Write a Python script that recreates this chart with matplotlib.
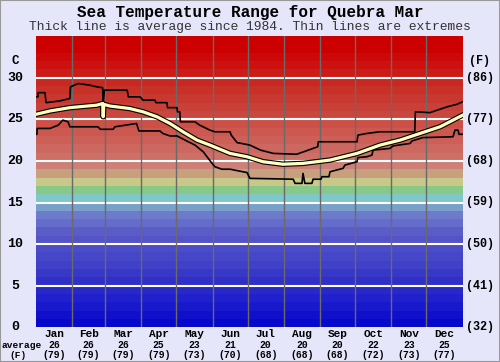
import matplotlib
matplotlib.use("Agg")
import matplotlib.pyplot as plt
from matplotlib.patches import Rectangle
import numpy as np

title = "Sea Temperature Range for Quebra Mar"
subtitle = "Thick line is average since 1984. Thin lines are extremes"

months = ["Jan", "Feb", "Mar", "Apr", "May", "Jun", "Jul", "Aug", "Sep", "Oct", "Nov", "Dec"]
month_days = [31, 28, 31, 30, 31, 30, 31, 31, 30, 31, 30, 31]
avg_c = [26, 26, 26, 25, 23, 21, 20, 20, 20, 22, 23, 25]
avg_f = [79, 79, 79, 79, 73, 70, 68, 68, 68, 72, 73, 77]

c_ticks = [0, 5, 10, 15, 20, 25, 30]
f_labels = ["(32)", "(41)", "(50)", "(59)", "(68)", "(77)", "(86)"]

# average line (day of year, deg C)
avg_day = [0, 12, 29, 52, 57, 57.5, 58, 63, 80, 91.5, 103.5, 114.6, 125.7, 137.7, 148.8,
           157.4, 166, 180.5, 194.2, 211.3, 228.4, 251.5, 274.6, 294.3, 311.4, 328.5, 345.6, 365]
avg_t = [25.6, 26.0, 26.4, 26.7, 26.9, 25.3, 26.8, 26.6, 26.3, 25.9, 25.3, 24.5, 23.5, 22.5, 21.9,
         21.4, 20.9, 20.5, 19.9, 19.6, 19.7, 20.1, 20.9, 21.9, 22.5, 23.3, 24.1, 25.5]

# upper extreme line
up_day = [0, 1.7, 1.8, 7.7, 8.6, 20, 29, 29.5, 36, 46, 52, 57, 57.5, 58.5, 78, 79, 89, 91.5,
          101.8, 102.5, 112, 112.5, 120.6, 121, 123, 123.5, 136, 140, 148.8, 153, 166, 167,
          172, 183, 192, 203, 223, 241, 241.5, 274.6, 275.4, 283, 294, 324, 324.5, 337,
          351.6, 360, 365]
up_t = [27.7, 27.7, 28.2, 28.2, 27.0, 27.2, 27.5, 28.9, 29.3, 29.1, 28.9, 28.8, 27.0, 28.5,
        28.5, 27.7, 27.7, 27.3, 27.3, 27.0, 27.0, 26.4, 26.4, 25.9, 25.9, 24.7, 24.7, 24.3,
        23.7, 23.5, 23.5, 23.1, 22.2, 21.9, 21.3, 20.9, 20.8, 21.7, 22.3, 22.3, 23.1, 23.3,
        23.5, 23.5, 25.9, 25.8, 26.5, 26.8, 27.1]

# lower extreme line
lo_day = [0, 0.8, 1.0, 12, 19, 23, 27.4, 29, 53, 55, 66, 67.5, 86, 88, 106, 108.5, 114.6,
          120.6, 127.5, 136, 143, 149, 153, 159, 166, 180.5, 183, 220, 221.6, 227.5, 228.4,
          230, 236, 237, 243.8, 244.6, 250.6, 251.5, 262.6, 264.3, 274.6, 275.4, 283, 287.4,
          288.3, 302.8, 305.4, 320, 321.6, 331, 356.7, 358.4, 361, 361.8, 365]
lo_t = [23.2, 23.2, 23.9, 23.9, 24.3, 24.9, 24.7, 24.1, 24.1, 23.8, 23.8, 24.1, 24.5, 23.6,
        23.6, 23.3, 23.0, 23.0, 22.5, 21.9, 21.1, 20.0, 19.3, 19.0, 19.0, 18.6, 17.9, 17.8,
        17.3, 17.3, 18.5, 17.3, 17.3, 17.8, 17.8, 18.1, 18.1, 18.7, 19.1, 19.5, 19.9, 20.4,
        20.5, 20.7, 21.3, 21.5, 21.8, 22.1, 22.4, 22.8, 22.9, 23.7, 23.7, 23.2, 23.2]

band_rgb = [
    (8, 8, 204), (16, 16, 204), (24, 24, 204), (32, 32, 204), (40, 40, 200),
    (48, 48, 200), (56, 56, 200), (64, 64, 200), (70, 70, 200), (76, 76, 200),
    (84, 84, 200), (92, 92, 200), (100, 108, 204), (110, 122, 204), (120, 160, 200),
    (128, 200, 200), (136, 200, 136), (200, 200, 136), (200, 160, 128), (204, 128, 120),
    (204, 112, 104), (204, 104, 96), (204, 96, 88), (204, 88, 80), (204, 80, 72),
    (200, 72, 64), (200, 64, 56), (200, 56, 48), (200, 48, 40), (200, 40, 32),
    (204, 28, 24), (204, 18, 16), (204, 8, 8), (204, 0, 0), (204, 0, 0),
]

bg = "#e6e6fa"
fig = plt.figure(figsize=(5.0, 3.62), dpi=100, facecolor=bg)
ax = fig.add_axes([36 / 500, 1 - 327.3 / 362, 426.7 / 500, 291.2 / 362])
ax.set_xlim(0, 365)
ax.set_ylim(0, 35)

for i, c in enumerate(band_rgb):
    ax.axhspan(i, i + 1, color=tuple(v / 255 for v in c), lw=0, zorder=0)

for t in c_ticks[1:]:
    ax.axhline(t, color="white", lw=1.5, zorder=1)

edges = np.concatenate([[0], np.cumsum(month_days)])
for e in edges[1:-1]:
    ax.axvline(e, color="#6a6a6a", lw=1, zorder=1)

ax.plot(up_day, up_t, color="black", lw=1.2, zorder=3)
ax.plot(lo_day, lo_t, color="black", lw=1.2, zorder=3)
ax.plot(avg_day, avg_t, color="black", lw=3.9, zorder=4, solid_joinstyle="round")
ax.plot(avg_day, avg_t, color="#ffffc0", lw=2.3, zorder=5, solid_joinstyle="round")

ax.set_xticks([])
ax.set_yticks([])
for s in ax.spines.values():
    s.set_visible(False)

mono = "Liberation Mono"
ytr = ax.get_yaxis_transform()
for t, fl in zip(c_ticks, f_labels):
    ax.text(-0.049, t, str(t), transform=ytr, ha="center", va="center",
            fontsize=9.5, fontweight="bold", family=mono, color="black")
    ax.text(1.04, t, fl, transform=ytr, ha="center", va="center",
            fontsize=8.5, fontweight="bold", family=mono, color="black")
ax.text(-0.049, 32.0, "C", transform=ytr, ha="center", va="center",
        fontsize=9, fontweight="bold", family=mono)
ax.text(1.04, 32.0, "(F)", transform=ytr, ha="center", va="center",
        fontsize=8.5, fontweight="bold", family=mono)

xtr = ax.get_xaxis_transform()
centers = (edges[:-1] + edges[1:]) / 2
for m, c, f, x in zip(months, avg_c, avg_f, centers):
    ax.text(x, -7 / 291.2, m, transform=xtr, ha="center", va="center",
            fontsize=8, fontweight="bold", family=mono)
    ax.text(x, -18 / 291.2, str(c), transform=xtr, ha="center", va="center",
            fontsize=7, fontweight="bold", family=mono)
    ax.text(x, -28 / 291.2, f"({f})", transform=xtr, ha="center", va="center",
            fontsize=7, fontweight="bold", family=mono)

fig.text(22 / 500, 1 - 345 / 362, "average", ha="center", va="center",
         fontsize=6.8, fontweight="bold", family=mono)
fig.text(18 / 500, 1 - 355 / 362, "(F)", ha="center", va="center",
         fontsize=6.8, fontweight="bold", family=mono)

fig.text(0.5, 1 - 12 / 362, title, ha="center", va="center",
         fontsize=11.5, fontweight="bold", family=mono)
fig.text(0.5, 1 - 27 / 362, subtitle, ha="center", va="center",
         fontsize=9.4, family=mono, color="#333333")

fig.patches.append(Rectangle((0, 0), 1, 1, transform=fig.transFigure, fill=False,
                             edgecolor="#999999", lw=1.5))

fig.savefig("out.png", dpi=100, facecolor=bg)
